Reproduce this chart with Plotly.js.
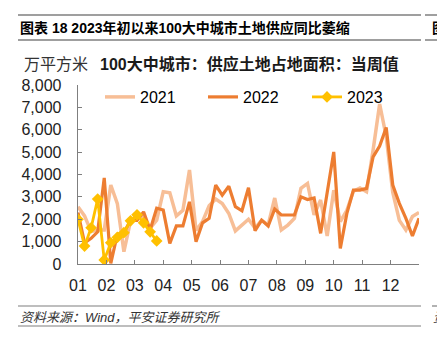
<!DOCTYPE html>
<html>
<head>
<meta charset="utf-8">
<script src="https://cdn.plot.ly/plotly-3.0.1.min.js"></script>
<style>
html,body{margin:0;padding:0;background:#fff;}
#chart{width:437px;height:347px;}
</style>
</head>
<body>
<div id="chart"></div>
<script>
// ---- data ----
const monthLabels = ["01","02","03","04","05","06","07","08","09","10","11","12"];
const weekCount = 53;
const values2021 = [2560,2150,1450,1520,1520,3530,2700,550,1900,2150,2100,1600,1960,3230,3180,2150,2400,4200,1500,1900,2600,2900,2700,2260,1480,1720,2000,1600,1950,1750,2950,1520,1740,2040,3380,3600,2200,2860,1250,3300,1900,2400,3250,3400,3230,5090,7150,5700,3200,1950,1520,2120,2300];
const values2022 = [2300,950,1150,1440,3850,30,1330,1400,1950,1950,2330,1520,2490,2410,920,1700,1700,2780,1000,1840,2040,3530,3080,3480,2560,2380,3410,1490,1960,1700,2460,2190,2190,2190,3000,2880,2950,1370,3200,5010,700,2260,3300,3300,3380,4790,5270,6100,3530,2710,2040,1250,2040];
const values2023 = [2000,800,1620,2900,180,950,1190,1400,1930,2200,1840,1440,1030];
const seriesNames = ["2021","2022","2023"];

// ---- geometry helpers ----
const W = 437, H = 347;
const L = 78, R = 419, T = 85, B = 264;
const px = x => (x - L) / (R - L);
const py = y => (B - y) / (B - T);
const idx = arr => arr.map((_, i) => i);

const FONT = '"Liberation Sans", Arial, "Noto Sans CJK SC", sans-serif';

const traces = [
  {x: idx(values2021), y: values2021, name: seriesNames[0], type: 'scatter', mode: 'lines',
   line: {color: '#F7BE96', width: 3.5}, legend: 'legend'},
  {x: idx(values2022), y: values2022, name: seriesNames[1], type: 'scatter', mode: 'lines',
   line: {color: '#ED7D31', width: 3.2}, legend: 'legend2'},
  {x: idx(values2023), y: values2023, name: seriesNames[2], type: 'scatter', mode: 'lines+markers',
   line: {color: '#FFC000', width: 2.8},
   marker: {symbol: 'diamond', size: 9, color: '#FFC000'}, legend: 'legend3'}
];

const tickvals = [];
const ticktext = [];
for (let k = 0; k <= 12; k++) {
  tickvals.push(k * (weekCount - 1) / 12);
  ticktext.push(k < 12 ? monthLabels[k] : "");
}

const lineColor = '#7f7f7f';
const hline = (x0, x1, y, w) => ({type: 'line', xref: 'paper', yref: 'paper',
  x0: px(x0), x1: px(x1), y0: py(y), y1: py(y), line: {color: lineColor, width: w}});

const ann = (text, x, y, size, opts = {}) => Object.assign({
  text: text, xref: 'paper', yref: 'paper', x: px(x), y: py(y),
  xanchor: 'left', yanchor: 'middle', showarrow: false,
  font: {family: FONT, size: size, color: '#000'}
}, opts);

const leg = x => ({orientation: 'h', x: px(x), y: py(97), yanchor: 'middle', xanchor: 'left',
  font: {family: FONT, size: 16, color: '#000'}, bgcolor: 'rgba(0,0,0,0)', itemwidth: 30});

const layout = {
  width: W, height: H,
  margin: {l: L, r: W - R, t: T, b: H - B, pad: 0},
  paper_bgcolor: '#fff', plot_bgcolor: '#fff',
  showlegend: true,
  legend: leg(100), legend2: leg(203), legend3: leg(307),
  xaxis: {range: [0, weekCount - 1], tickmode: 'array', tickvals: tickvals, ticktext: ticktext,
    ticks: 'inside', ticklen: 4, tickcolor: lineColor, tickwidth: 1,
    showline: true, linecolor: lineColor, linewidth: 1.3, showgrid: false, zeroline: false,
    tickfont: {family: FONT, size: 16, color: '#222'}, ticklabelstandoff: 6, fixedrange: true},
  yaxis: {range: [0, 8000], dtick: 1000, tickformat: ',d',
    ticks: 'inside', ticklen: 4, tickcolor: lineColor, tickwidth: 1,
    showline: true, linecolor: lineColor, linewidth: 1.3, showgrid: false, zeroline: false,
    tickfont: {family: FONT, size: 16, color: '#222'}, ticklabelstandoff: 12, fixedrange: true},
  shapes: [
    hline(18, 421, 15, 1.5), hline(18, 421, 40, 1.5),
    hline(425, 440, 15, 1.5), hline(425, 440, 40, 1.5),
    hline(18, 421, 306, 1.2), hline(18, 421, 326, 1.2),
    hline(432, 440, 306, 1.2)
  ],
  annotations: [
    ann('<b>图表 18 2023年初以来100大中城市土地供应同比萎缩</b>', 18, 28, 14),
    ann('<b>图</b>', 430, 28, 14),
    ann('万平方米', 22, 64, 16, {font: {family: FONT, size: 16, color: '#333'}}),
    ann('<b>100大中城市：供应土地占地面积：当周值</b>', 98, 64, 16, {font: {family: FONT, size: 16, color: '#1a1a1a'}}),
    ann('<i>资料来源：Wind，平安证券研究所</i>', 18, 317, 13, {font: {family: FONT, size: 13, color: '#333'}}),
    ann('<i>资</i>', 431, 317, 13, {font: {family: FONT, size: 13, color: '#333'}})
  ]
};

Plotly.newPlot('chart', traces, layout, {staticPlot: true, displayModeBar: false});
</script>
</body>
</html>
